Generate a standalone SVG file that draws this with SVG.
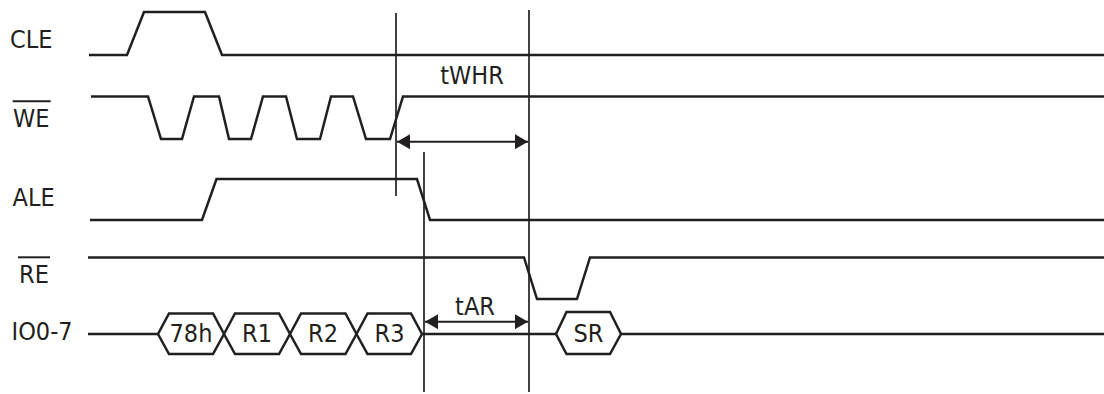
<svg xmlns="http://www.w3.org/2000/svg" width="1104" height="394" viewBox="0 0 1104 394">
<style>
.sig{fill:none;stroke:#231f20;stroke-width:2.5;stroke-linejoin:miter}
.mk{fill:none;stroke:#231f20;stroke-width:1.7}
.arr{fill:none;stroke:#231f20;stroke-width:2}
.lbl{font-family:"DejaVu Sans Condensed","DejaVu Sans",sans-serif;font-size:25px;fill:#231f20}
.ol{stroke:#231f20;stroke-width:2}
</style>
<defs>
<marker id="ah" viewBox="0 0 13 15" refX="13" refY="7.5" markerWidth="13" markerHeight="15" markerUnits="userSpaceOnUse" orient="auto-start-reverse">
<path d="M0,0 L13,7.5 L0,15 Z" fill="#231f20"/>
</marker>
</defs>
<rect width="1104" height="394" fill="#ffffff"/>
<g id="labels">
<text class="lbl" x="10" y="47.5">CLE</text>
<text class="lbl" x="13" y="127">WE</text>
<line class="ol" x1="12.7" y1="101.3" x2="50.7" y2="101.3"/>
<text class="lbl" x="12.5" y="206">ALE</text>
<text class="lbl" x="19" y="283">RE</text>
<line class="ol" x1="18" y1="257.3" x2="50" y2="257.3"/>
<text class="lbl" x="11.5" y="340">IO0-7</text>
</g>
<g id="CLE">
<polyline class="sig" points="89,55 127,55 144,12 205,12 222,55 1104,55"/>
</g>
<g id="WE">
<polyline class="sig" points="91,96.5 148,96.5 161,139 182,139 194,96.5 219,96.5 229,139 251,139 263,96.5 286,96.5 297,139 320,139 331,96.5 353,96.5 366,139 390,139 403,96.5 1104,96.5"/>
</g>
<g id="ALE">
<polyline class="sig" points="90,220 202,220 216.5,179 417,179 430,220 1104,220"/>
</g>
<g id="RE">
<polyline class="sig" points="88,257.5 524,257.5 537,299 577,299 590,257.5 1104,257.5"/>
</g>
<g id="IO">
<line class="sig" x1="88" y1="334" x2="158" y2="334"/>
<polygon class="sig" points="158,334 169,313.5 213,313.5 224,334 213,354 169,354"/>
<polygon class="sig" points="224,334 235,313.5 279,313.5 290,334 279,354 235,354"/>
<polygon class="sig" points="290,334 301,313.5 345.5,313.5 356.5,334 345.5,354 301,354"/>
<polygon class="sig" points="356.5,334 367.5,313.5 411,313.5 422,334 411,354 367.5,354"/>
<line class="sig" x1="422" y1="334" x2="556" y2="334"/>
<polygon class="sig" points="556,334 566.5,312 610,312 621,334 610,354 566.5,354"/>
<line class="sig" x1="621" y1="334" x2="1104" y2="334"/>
<text class="lbl" x="191" y="341.5" text-anchor="middle">78h</text>
<text class="lbl" x="257" y="341.5" text-anchor="middle">R1</text>
<text class="lbl" x="323" y="341.5" text-anchor="middle">R2</text>
<text class="lbl" x="389.5" y="341.5" text-anchor="middle">R3</text>
<text class="lbl" x="588.5" y="341.5" text-anchor="middle">SR</text>
</g>
<g id="connectors">
<line class="mk" x1="396" y1="13" x2="396" y2="196"/>
<line class="mk" x1="424" y1="152" x2="424" y2="392"/>
<line class="mk" x1="529" y1="10" x2="529" y2="392"/>
<line class="arr" x1="397" y1="141.7" x2="528" y2="141.7" marker-start="url(#ah)" marker-end="url(#ah)"/>
<line class="arr" x1="425" y1="321.7" x2="528" y2="321.7" marker-start="url(#ah)" marker-end="url(#ah)"/>
<text class="lbl" x="472" y="83.5" text-anchor="middle">tWHR</text>
<text class="lbl" x="475" y="315" text-anchor="middle">tAR</text>
</g>
</svg>
